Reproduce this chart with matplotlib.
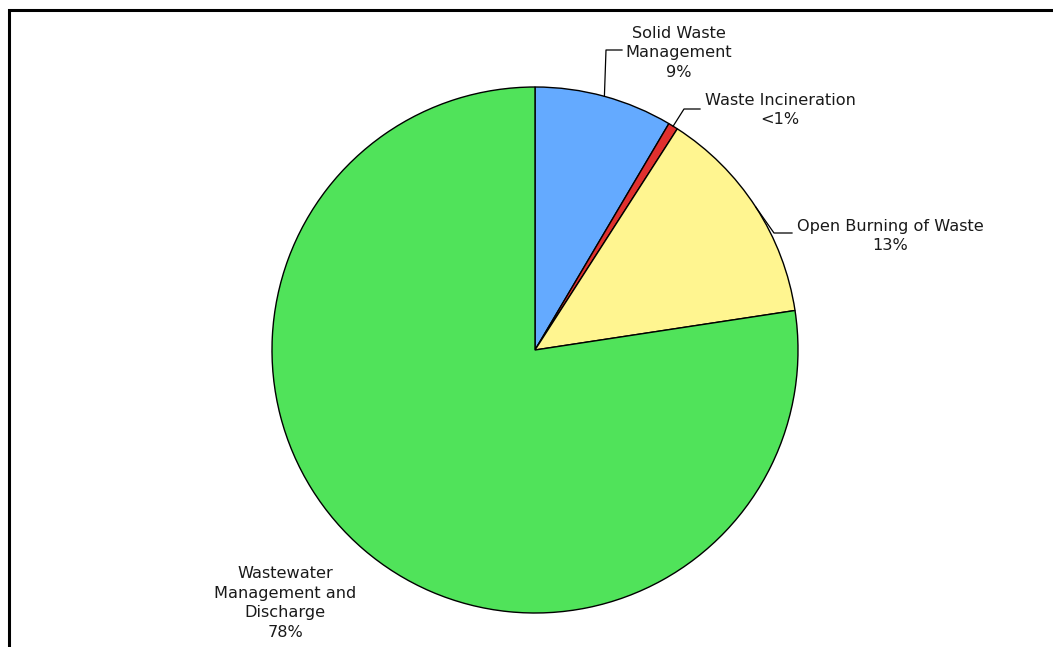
import matplotlib
matplotlib.use("Agg")
import matplotlib.pyplot as plt
import numpy as np

categories = ["Solid Waste\nManagement", "Waste Incineration", "Open Burning of Waste",
              "Wastewater\nManagement and\nDischarge"]
values = [8.5, 0.6, 13.5, 77.4]
pct_labels = ["9%", "<1%", "13%", "78%"]
colors = ["#64AAFF", "#E0302E", "#FFF590", "#50E35A"]

W, H = 1053, 647
CX, CY, R = 535, 350, 263

def px(x, y):
    return ((x - CX) / R, (CY - y) / R)

fig = plt.figure(figsize=(W / 100, H / 100), dpi=100)
ax = fig.add_axes([0, 0, 1, 1])

wedges, _ = ax.pie(values, colors=colors, startangle=90, counterclock=False,
                   radius=1.0, center=(0, 0),
                   wedgeprops=dict(edgecolor="black", linewidth=1.0))
ax.set_xlim(-CX / R, (W - CX) / R)
ax.set_ylim(-(H - CY) / R, CY / R)
ax.set_aspect("auto")
ax.axis("off")

# label layout: (elbow px, line end px, text center px) or None for no leader
layouts = [
    ((606, 50), (622, 50), (679, 53)),
    ((684, 109), (700, 109), (780, 110)),
    ((774, 233), (792, 233), (890, 236)),
    (None, None, (285, 603)),
]

fs = 11.6
for w, cat, pl, lay in zip(wedges, categories, pct_labels, layouts):
    mid = np.deg2rad((w.theta1 + w.theta2) / 2)
    ax_pt = (np.cos(mid), np.sin(mid))
    elbow, end, tc = lay
    if elbow is not None:
        e = px(*elbow)
        en = px(*end)
        ax.plot([ax_pt[0], e[0], en[0]], [ax_pt[1], e[1], en[1]], color="black", lw=0.9)
    t = px(*tc)
    ax.text(t[0], t[1], cat + "\n" + pl, ha="center", va="center", fontsize=fs,
            color="#1a1a1a", family="DejaVu Sans", linespacing=1.4)

# outer border (chart area frame)
fig.add_artist(plt.Rectangle((9 / W, -0.1), 1.2, 1 - 10 / H + 0.1, transform=fig.transFigure,
                             fill=False, edgecolor="black", linewidth=2.2))

fig.savefig("out.png", dpi=100)
